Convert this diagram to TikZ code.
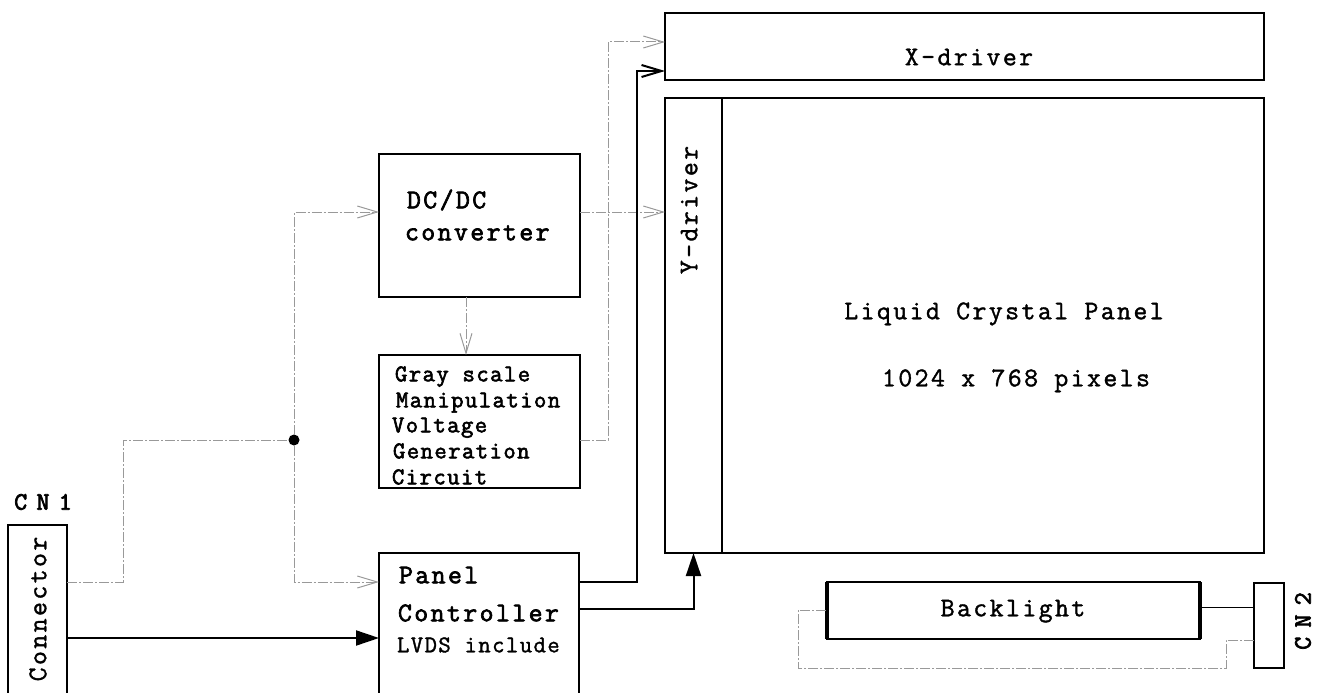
\documentclass[tikz,border=0pt]{standalone}
\usepackage{fontspec}
\usetikzlibrary{arrows.meta}
\newfontfamily\typefont{Latin Modern Mono}[LetterSpace=9, FakeBold=1.4]
\newfontfamily\typefontb{Latin Modern Mono}[LetterSpace=9, FakeBold=2.5]
\newfontfamily\smfont{Latin Modern Mono}[LetterSpace=6, FakeBold=1.4]
\newfontfamily\smfontb{Latin Modern Mono}[LetterSpace=6, FakeBold=2.5]
\newfontfamily\cnfont{Latin Modern Mono}[FakeBold=3]
\definecolor{sigGray}{gray}{0.6}
\newcommand\cnspace{\spaceskip=0.376em\relax}

\begin{document}
\begin{tikzpicture}[x=1pt, y=-1pt,
    every node/.style={inner sep=0pt, outer sep=0pt},
    lbl/.style={font=\typefont\fontsize{27}{30}\selectfont, text height=16.5pt, text depth=0pt},
    lblb/.style={font=\typefontb\fontsize{27}{30}\selectfont, text height=16.5pt, text depth=0pt},
    lblsm/.style={font=\smfont\fontsize{24}{27}\selectfont, text height=14.6pt, text depth=0pt},
    lblsmb/.style={font=\smfontb\fontsize{24}{27}\selectfont, text height=14.6pt, text depth=0pt},
    cnlbl/.style={font=\cnfont\fontsize{25}{28}\selectfont, text height=15.3pt, text depth=0pt},
    box/.style={draw, line width=1.5pt},
    sig/.style={draw=sigGray, line width=1pt, dash pattern=on 10pt off 2pt on 2pt off 2pt},
    wire/.style={line width=2pt},
    openarr/.style={-{Straight Barb[length=20pt,width=12pt]}},
    fillarr/.style={-{Triangle[length=23pt,width=15pt]}}]
  \useasboundingbox (0,0) rectangle (1318,693);
  \clip (0,0) rectangle (1318,693);

  % LCD module
  \node[box, minimum width=599, minimum height=67] (xdrv) at (964.5,46.5) {};
  \node[box, minimum width=599, minimum height=455] (lcd) at (964.5,325.5) {};
  \node[box, minimum width=57, minimum height=455] (ydrv) at (693.5,325.5) {};
  \node[lbl] (xlab) at (969,57) {X-driver};
  \node[lbl, rotate=90] (ylab) at (689,210) {Y-driver};
  \node[lbl] (lcdlab) at (1004,311) {Liquid Crystal Panel};
  \node[lbl] (pixlab) at (1016,378) {1024 x 768 pixels};

  % circuit blocks
  \node[box, minimum width=201, minimum height=143] (dcdc) at (479.5,225.5) {};
  \node[lblb, anchor=west] (dclab) at (407,200) {DC/DC};
  \node[lblb, anchor=west] (convlab) at (405,232) {converter};
  \node[box, minimum width=201, minimum height=133] (gray) at (479.5,421.5) {};
  \foreach \y/\x/\t in {374/395/Gray scale, 400/396/Manipulation, 425/392/Voltage, 451/393/Generation, 477/392/Circuit}
    \node[lblsmb, anchor=west] (gl\y) at (\x,\y) {\t};
  \node[box, minimum width=200, minimum height=207] (ctrl) at (479,656.5) {};
  \node[lblb, anchor=west] (panlab) at (399,575) {Panel};
  \node[lblb, anchor=west] (ctllab) at (398,613) {Controller};
  \node[lblsm, anchor=west] (lvdslab) at (397,645) {LVDS include};

  % connectors and backlight
  \node[box, minimum width=59, minimum height=235] (conn) at (37.5,642.5) {};
  \node[lbl, rotate=90] (connlab) at (38,609) {Connector};
  \node[cnlbl] (cn1lab) at (43,502) {\cnspace C N 1};
  \node[box, minimum width=373, minimum height=57] (back) at (1013.5,610.5) {};
  \draw[line width=3.5pt] (back.north west) -- (back.south west);
  \draw[line width=3.5pt] (back.north east) -- (back.south east);
  \node[lbl] (backlab) at (1013,608) {Backlight};
  \node[box, minimum width=30, minimum height=85] (cn2) at (1269,625.5) {};
  \node[cnlbl, rotate=90] (cn2lab) at (1303,621) {\cnspace C N 2};

  % signal lines
  \node[circle, fill, minimum size=11pt] (jn) at (294,440) {};
  \draw[sig] (conn.east |- 0,582) -- ++(56,0) |- (jn);
  \draw[sig, openarr] (jn) |- (dcdc.west |- 0,212);
  \draw[sig, openarr] (jn) |- (ctrl.west |- 0,582);
  \draw[wire, fillarr] (conn.east |- 0,638) -- (ctrl.west |- 0,638);
  \draw[sig, openarr] (dcdc.south -| 466,0) -- (gray.north -| 466,0);
  \draw[sig, openarr] (dcdc.east |- 0,212) -- (ydrv.west |- 0,212);
  \draw[sig, openarr] (gray.east |- 0,440) -- ++(28,0) |- (xdrv.west |- 0,42);
  \draw[wire, openarr] (ctrl.east |- 0,582) -- ++(58,0) |- (xdrv.west |- 0,71);
  \draw[wire, fillarr] (ctrl.east |- 0,609) -| (ydrv.south);
  \draw[line width=1pt] (back.east |- 0,607) -- (cn2.west |- 0,607);
  \draw[sig] (cn2.west |- 0,640) -| (1226,668) -| (798,610) -- (back.west |- 0,610);
\end{tikzpicture}
\end{document}
